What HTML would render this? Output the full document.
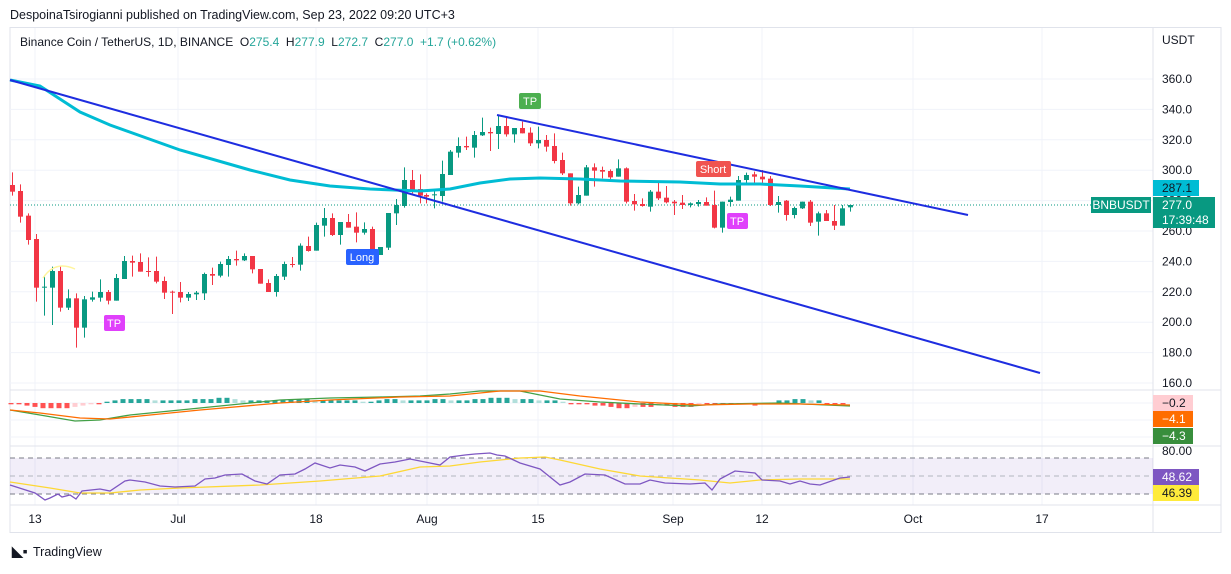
<!DOCTYPE html>
<html><head><meta charset="utf-8"><style>
body{margin:0;background:#fff;font-family:"Liberation Sans",sans-serif;}
svg text{font-family:"Liberation Sans",sans-serif;white-space:pre;}
</style></head><body>
<svg id="s" width="1231" height="569" xmlns="http://www.w3.org/2000/svg">
<rect width="1231" height="569" fill="#fff"/>
<text x="10" y="19" font-size="12.5" fill="#131722">DespoinaTsirogianni published on TradingView.com, Sep 23, 2022 09:20 UTC+3</text>
<rect x="10" y="27.5" width="1211" height="505" fill="none" stroke="#e0e3eb"/>
<g id="grid" stroke="#f0f3fa" stroke-width="1"></g>
<line x1="10" y1="390" x2="1221" y2="390" stroke="#e0e3eb"/>
<line x1="10" y1="446" x2="1221" y2="446" stroke="#e0e3eb"/>
<line x1="1153" y1="28" x2="1153" y2="532" stroke="#e0e3eb"/>
<line x1="10" y1="505" x2="1221" y2="505" stroke="#e0e3eb"/>
<text x="20" y="46" font-size="12" fill="#131722" xml:space="preserve">Binance Coin / TetherUS, 1D, BINANCE  O<tspan fill="#26a69a">275.4</tspan>  H<tspan fill="#26a69a">277.9</tspan>  L<tspan fill="#26a69a">272.7</tspan>  C<tspan fill="#26a69a">277.0  +1.7 (+0.62%)</tspan></text>
<rect x="10" y="458" width="1143" height="36" fill="#7e57c2" fill-opacity="0.1"/>
<line x1="10" y1="458" x2="1153" y2="458" stroke="#787b86" stroke-dasharray="5,4"/>
<line x1="10" y1="476" x2="1153" y2="476" stroke="#b2b5be" stroke-dasharray="5,4"/>
<line x1="10" y1="494" x2="1153" y2="494" stroke="#787b86" stroke-dasharray="5,4"/>
<line x1="10" y1="205" x2="1092" y2="205" stroke="#089981" stroke-dasharray="1,2"/>
<g id="c"></g>
<polyline fill="none" stroke="#00bcd4" stroke-width="3" points="10,80 40,86 80,112 110,125 180,150 250,170 290,180 330,186 370,189 420,191 450,189 480,183 510,179 540,178 580,179 620,181 680,182 720,184 760,184 800,186 850,189"/>
<line x1="10" y1="80" x2="1040" y2="373" stroke="#1e2de0" stroke-width="2"/>
<line x1="497" y1="115" x2="968" y2="215" stroke="#1e2de0" stroke-width="2"/>
<path d="M43,278 Q55,260 75,269" fill="none" stroke="#fff59d" stroke-width="1.5"/>
<rect x="519" y="93" width="22" height="16" rx="2" fill="#4caf50"/><text x="530" y="105" font-size="11" fill="#fff" text-anchor="middle">TP</text>
<rect x="346" y="249" width="33" height="16" rx="2" fill="#2962ff"/><text x="362" y="261" font-size="11" fill="#fff" text-anchor="middle">Long</text>
<rect x="696" y="161" width="35" height="16" rx="2" fill="#f05350"/><text x="713" y="173" font-size="11" fill="#fff" text-anchor="middle">Short</text>
<rect x="727" y="213" width="21" height="16" rx="2" fill="#e040fb"/><text x="737" y="225" font-size="11" fill="#fff" text-anchor="middle">TP</text>
<rect x="104" y="315" width="21" height="16" rx="2" fill="#e040fb"/><text x="114" y="327" font-size="11" fill="#fff" text-anchor="middle">TP</text>
<g id="m"></g>
<polyline fill="none" stroke="#43a047" stroke-width="1.3" points="10,410 40,415 75,421 100,420 130,415 180,410 220,406 280,400 330,398 380,397 420,396 450,394 480,391 520,391 560,399 600,402 640,404 690,406 720,404 780,403 850,406"/>
<polyline fill="none" stroke="#ff6d00" stroke-width="1.3" points="10,410 40,413 80,418 110,419 150,415 200,410 280,403 330,400 400,397 450,396 500,391 540,391 580,396 640,402 700,405 750,404 800,404 850,405"/>
<polyline fill="none" stroke="#fdd835" stroke-width="1.3" points="10,482 50,488 80,493 110,493 140,490 180,488 260,485 320,481 380,476 420,467 450,466 480,462 520,458 545,457 560,460 600,469 640,476 700,480 730,483 760,480 800,479 850,479"/>
<polyline fill="none" stroke="#7e57c2" stroke-width="1.3" points="10,485 35,493 45,500 50,498 58,494 62,497 70,495 76,499 82,491 100,489 110,491 125,481 130,480 145,482 160,486 175,487 195,486 205,479 215,478 225,475 242,474 255,481 267,484 280,475 295,474 305,469 315,463 330,468 340,465 355,467 365,471 380,464 395,462 410,459 425,462 440,465 450,457 465,455 475,454 490,453 497,455 505,456 520,463 540,469 560,485 570,482 585,474 605,475 625,484 640,484 650,480 665,483 690,484 705,483 712,490 720,479 735,471 755,473 762,480 780,481 790,484 800,481 810,484 820,485 840,478 850,477"/>
<g font-size="12" fill="#131722">
<text x="1162" y="44">USDT</text>
<g id="ax"></g>
<text x="1162" y="455">80.00</text>
<text x="35" y="523" text-anchor="middle">13</text>
<text x="178" y="523" text-anchor="middle">Jul</text>
<text x="316" y="523" text-anchor="middle">18</text>
<text x="427" y="523" text-anchor="middle">Aug</text>
<text x="538" y="523" text-anchor="middle">15</text>
<text x="673" y="523" text-anchor="middle">Sep</text>
<text x="762" y="523" text-anchor="middle">12</text>
<text x="913" y="523" text-anchor="middle">Oct</text>
<text x="1042" y="523" text-anchor="middle">17</text>
</g>
<rect x="1153" y="180" width="46" height="16" fill="#00bcd4"/><text x="1162" y="192" font-size="12" fill="#131722">287.1</text>
<rect x="1091" y="197" width="60" height="16" fill="#089981"/><text x="1121" y="209" font-size="12" fill="#fff" text-anchor="middle">BNBUSDT</text>
<rect x="1153" y="197" width="62" height="31" fill="#089981"/><text x="1162" y="209" font-size="12" fill="#fff">277.0</text><text x="1162" y="224" font-size="12" fill="#fff">17:39:48</text>
<rect x="1153" y="395" width="40" height="16" fill="#ffcdd2"/><text x="1162" y="407" font-size="12" fill="#131722">−0.2</text>
<rect x="1153" y="411" width="40" height="16" fill="#ff6d00"/><text x="1162" y="423" font-size="12" fill="#fff">−4.1</text>
<rect x="1153" y="428" width="40" height="16" fill="#388e3c"/><text x="1162" y="440" font-size="12" fill="#fff">−4.3</text>
<rect x="1153" y="469" width="46" height="16" fill="#7e57c2"/><text x="1162" y="481" font-size="12" fill="#fff">48.62</text>
<rect x="1153" y="485" width="46" height="16" fill="#ffeb3b"/><text x="1162" y="497" font-size="12" fill="#131722">46.39</text>
<text x="12" y="556" font-size="14" font-weight="bold" fill="#131722">◣▪</text>
<text x="33" y="556" font-size="12.5" fill="#131722">TradingView</text>
</svg>
<script>
var NS="http://www.w3.org/2000/svg";
function el(p,t,a){var e=document.createElementNS(NS,t);for(var k in a)e.setAttribute(k,a[k]);p.appendChild(e);return e;}
var g=document.getElementById('grid'),ax=document.getElementById('ax');
for(var p=160;p<=360;p+=20){var y=79+(360-p)*1.52;el(g,'line',{x1:10,y1:y,x2:1153,y2:y});var t=el(ax,'text',{x:1162,y:y+4});t.textContent=p.toFixed(1);}
[35,178,316,427,538,673,762,913,1042].forEach(function(x){el(g,'line',{x1:x,y1:28,x2:x,y2:505});});
[403,420,437].forEach(function(a){el(g,'line',{x1:10,y1:a,x2:1153,y2:a});});
var z1=[['r',315,335,277,347],['r',333,410,313,428],['r',407,480,400,494],['r',477,623,462,665],['g',620,623,590,707],['g',573,623,560,735],['r',573,683,558,695],['g',655,683,628,690],['r',655,743,640,803],['g',658,743,648,773],['g',652,659,635,665],['g',636,653,598,665],['r',636,662,630,673],['g',594,662,582,662],['g',543,597,528,597],['r',543,548,527,590],['r',546,575,520,575],['r',573,576,532,590],['r',573,605,530,610],['r',603,638,590,657],['r',635,637,632,702],['r',636,653,606,667],['g',642,653,636,663],['g',638,643,633,660],['g',582,640,578,660],['r',582,587,563,615],['g',552,587,545,592],['g',537,555,528,590],['r',537,541,512,557],['g',528,541,520,543],['r',528,568,528,580],['r',567,611,567,611],['r',609,636,598,636],['g',588,636,582,650],['g',552,590,545,600],['r',552,555,531,562],['g',497,554,490,572],['r',498,513,470,515],['g',435,512,428,512],['g',414,437,384,470],['r',414,465,400,468],['g',426,465,426,494],['r',426,443,402,443],['r',440,458,397,487],['g',447,458,427,464],['r',447,525,440,525],['g',501,525,501,525],['g',399,503,399,510],['g',375,400,357,435],['g',300,378,262,383],['r',300,330,270,340],['r',327,347,283,370]];
var z2=[['r',315,320,310,340],['g',313,316,300,355],['g',252,318,212,335],['g',185,255,180,255],['g',168,188,142,203],['r',168,172,140,180],['g',135,173,123,203],['g',126,136,83,138],['r',126,130,113,183],['g',108,132,75,177],['r',108,133,83,140],['g',114,133,114,158],['r',114,130,95,130],['r',128,160,112,168],['g',150,160,110,175],['r',150,170,135,185],['r',168,213,130,220],['r',210,250,188,255],['r',250,340,250,347],['g',315,340,290,343],['g',232,317,225,317],['r',232,242,220,290],['r',240,245,230,265],['r',243,262,238,268],['g',235,260,208,260],['r',235,335,232,340],['r',333,343,312,362],['r',342,348,325,350],['g',305,350,300,365],['r',305,325,275,330],['r',323,337,288,340],['r',335,340,330,375],['r',338,345,315,357],['g',340,345,337,352],['g',336,342,330,350],['r',336,347,322,347],['r',345,413,302,415],['g',335,413,335,428],['g',329,336,320,350],['g',270,332,258,332],['g',255,270,248,283],['r',253,260,245,285],['r',260,268,240,280],['r',266,345,258,348],['g',336,345,318,368],['r',332,375,330,392],['g',354,375,350,385],['g',335,355,335,357],['r',335,398,330,408],['g',370,395,365,437],['r',370,393,360,393],['r',393,407,345,420],['g',355,407,345,407],['g',345,352,343,365]];
var c=document.getElementById('c');
function draw(x,d,oy){var col=d[0]=='g'?'#089981':'#f23645';var t=oy+d[1]/3,b=oy+d[2]/3;if(b-t<1)b=t+1;
el(c,'line',{x1:x,y1:oy+d[3]/3,x2:x,y2:oy+d[4]/3,stroke:col,'stroke-width':1});el(c,'rect',{x:x-2.5,y:t,width:5,height:b-t,fill:col});}
z1.forEach(function(d,i){draw(Math.round((35+24*i)/3)+0.5,d,80);});
z2.forEach(function(d,i){draw(Math.round(420+(18+24*i)/3)+0.5,d,90);});
var m=document.getElementById('m');
var h=[-1,-1,-2,-3,-4,-4,-4,-4,-3,-2,-1,-1,1,2,3,3,3,3,2,2,2,2,2,3,3,3,4,4,3,2,2,2,2,2,2,3,3,3,2,2,2,2,2,2,1,1,2,3,3,2,2,2,2,3,3,2,2,2,3,3,4,4,4,3,3,3,2,2,2,1,-1,-1,-1,-2,-2,-3,-4,-4,-3,-3,-3,-2,-2,-3,-3,-3,-1,-1,-1,-1,-1,-1,-1,-2,-1,-1,2,2,3,3,2,2,-1,-1,-1,-1];
h=h.slice(0,105);
h.forEach(function(v,i){var x=Math.round(11+8*i)-2.5;var prev=i?h[i-1]:v;var col=v>=0?(v>=prev?'#26a69a':'#b2dfdb'):(v<=prev?'#ff5252':'#ffcdd2');
el(m,'rect',{x:x,y:v>0?403-v*1.3:403,width:5,height:Math.max(1,Math.abs(v)*1.3),fill:col});});
</script>
</body></html>
